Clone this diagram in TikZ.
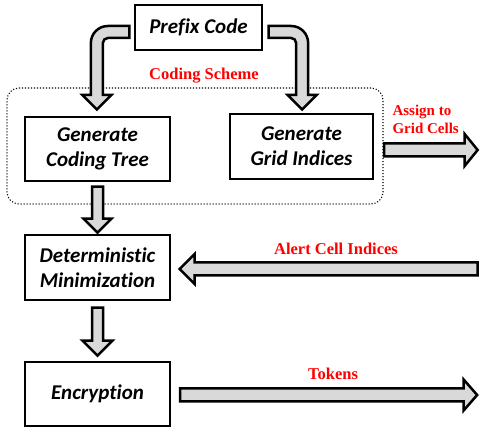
\documentclass[tikz,border=0pt]{standalone}
\usepackage{fontspec}
\setmainfont{Liberation Serif}
\newfontfamily\boxfont[Ligatures=NoCommon]{Carlito}
\usetikzlibrary{calc}
\begin{document}
\begin{tikzpicture}[x=1pt,y=-1pt,
  box/.style={draw, line width=1.3pt, minimum width=145pt, minimum height=64pt, inner sep=0pt, align=center,
    font=\boxfont\bfseries\itshape\fontsize{21}{25}\selectfont},
  blk/.style={draw, line width=2.5pt, fill=gray!30},
  lbl/.style={text=red, font=\bfseries\fontsize{16.5}{18}\selectfont},
  scheme/.style={draw, line width=1.1pt, dash pattern=on 1.1pt off 1.9pt, rounded corners=12pt,
    minimum width=376pt, minimum height=116pt, inner sep=0pt}]
\useasboundingbox (0,0) rectangle (480,430);
\node[scheme] (cs) at (195,146) {};
\node[box, minimum width=127pt, minimum height=45pt] (pc) at (198.5,27.5) {Prefix Code};
\node[box] (ct) at (97.5,149) {Generate\\Coding Tree};
\node[box, minimum width=143pt, minimum height=65pt] (gi) at (301.5,146.5) {Generate\\Grid Indices};
\node[box, minimum height=65pt] (dm) at (97.5,267.5) {Deterministic\\Minimization};
\node[box] (enc) at (97.5,394) {Encryption};
\node[lbl] (csl) at (204,76) {Coding Scheme};
\node[lbl, font=\bfseries\fontsize{15}{18}\selectfont, align=left, anchor=west] (agc) at (389,119) {Assign to\\Grid Cells};
\node[lbl] (acl) at (336,249) {Alert Cell Indices};
\node[lbl] (tok) at (333,374) {Tokens};
% curved arrows from Prefix Code
\draw[blk] ($(pc.west)+(-5,-1.5)$) -- ++(-21.5,0) .. controls +(-9.4,0) and +(0,-9.4) .. ++(-17,17)
  -- ++(0,52) -- ++(-8.5,0) -- ++(14.5,14.5) -- ++(14.5,-14.5) -- ++(-8.5,0) -- ++(0,-52)
  .. controls +(0,-2.76) and +(-2.76,0) .. ++(5,-5) -- ++(21.5,0) -- cycle;
\draw[blk] ($(pc.east)+(6,-1.5)$) -- ++(22.5,0) .. controls +(9.4,0) and +(0,-9.4) .. ++(17,17)
  -- ++(0,52) -- ++(8.5,0) -- ++(-14.5,14.5) -- ++(-14.5,-14.5) -- ++(8.5,0) -- ++(0,-52)
  .. controls +(0,-2.76) and +(2.76,0) .. ++(-5,-5) -- ++(-22.5,0) -- cycle;
% down arrows
\draw[blk] ($(ct.south)+(-5.5,5)$) -- ++(0,32) -- ++(-8.5,0) -- ++(14,14) -- ++(14,-14) -- ++(-8.5,0) -- ++(0,-32) -- cycle;
\draw[blk] ($(dm.south)+(-5.5,7)$) -- ++(0,33) -- ++(-9.5,0) -- ++(15,15) -- ++(15,-15) -- ++(-9.5,0) -- ++(0,-33) -- cycle;
% horizontal arrows
\draw[blk] ($(gi.east)+(10.5,-3)$) -- ++(80.5,0) -- ++(0,-9.5) -- ++(13,16) -- ++(-13,16) -- ++(0,-9.5) -- ++(-80.5,0) -- cycle;
\draw[blk] ($(dm.east)+(9,1.5)$) -- ++(15,-15) -- ++(0,8.5) -- ++(283,0) -- ++(0,13) -- ++(-283,0) -- ++(0,8.5) -- cycle;
\draw[blk] ($(enc.east)+(9.5,-5.5)$) -- ++(283.5,0) -- ++(0,-9) -- ++(13.5,15.5) -- ++(-13.5,15.5) -- ++(0,-9) -- ++(-283.5,0) -- cycle;
\end{tikzpicture}
\end{document}
